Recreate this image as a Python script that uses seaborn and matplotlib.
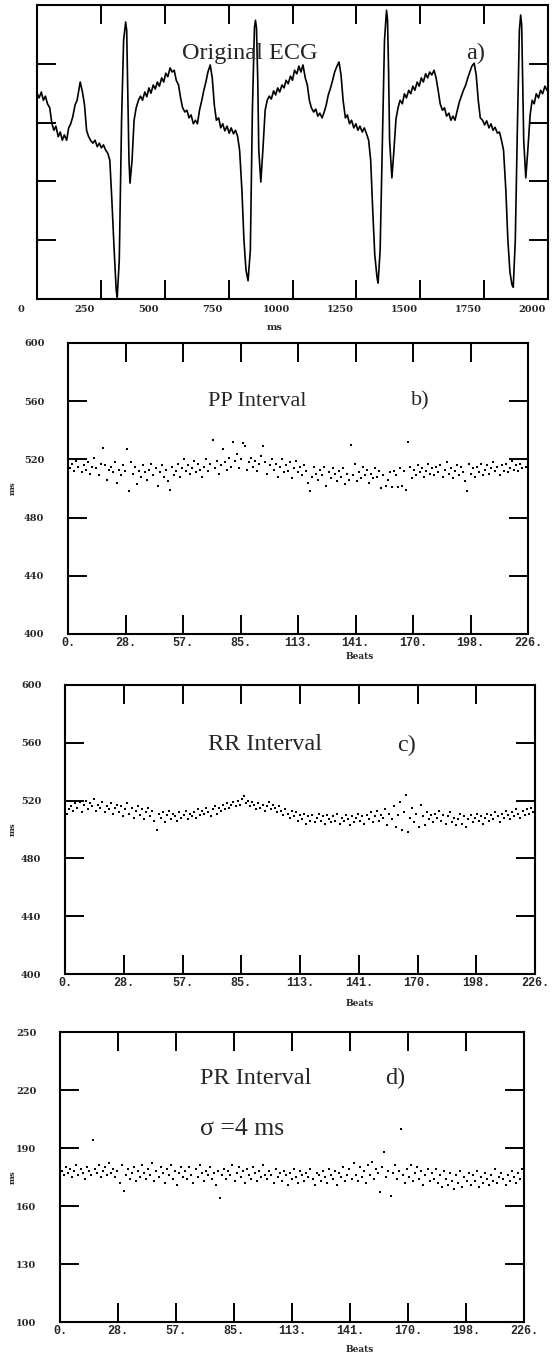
import numpy as np
import pandas as pd
import matplotlib.pyplot as plt
import matplotlib.transforms as mtransforms
import seaborn as sns

# ---- data ----
# a) original ECG trace (time in ms, amplitude in arbitrary units)
ecg_ms = [0, 8, 17, 25, 33, 41, 50, 58, 66, 74, 83, 91, 99, 107, 116, 124, 132, 140, 149, 157,
          165, 169, 178, 186, 194, 202, 211, 219, 227, 236, 244, 252, 260, 269, 277, 285, 293, 302, 310, 314,
          322, 331, 339, 347, 351, 355, 360, 364, 372, 380, 388, 397,
          405, 413, 422, 430, 438, 446, 455, 463, 471, 479, 488, 496, 504, 512, 521, 529, 537, 545, 554, 562,
          570, 579, 587, 595, 603, 612, 620, 628, 636, 645, 653, 661, 669, 678, 686, 694, 702, 711, 719, 727,
          735, 744, 752, 760, 769, 777, 785, 793, 802, 810, 818, 826, 835, 843, 851, 855, 859, 864, 868, 876,
          884, 893, 901,
          909, 917, 926, 934, 942, 950, 959, 967, 975, 983, 992, 1000, 1008, 1017, 1025, 1033, 1041, 1050, 1058, 1066,
          1074, 1083, 1091, 1099, 1107, 1116, 1124, 1132, 1140, 1149, 1157, 1165, 1174, 1182, 1190, 1198, 1207, 1215, 1223, 1231,
          1240, 1248, 1256, 1264, 1273, 1281, 1289, 1298, 1306, 1314, 1322, 1331, 1335, 1343, 1351, 1360, 1368, 1372, 1376, 1380,
          1389, 1397, 1405, 1413,
          1421, 1430, 1438, 1446, 1455, 1463, 1471, 1479, 1488, 1496, 1504, 1512, 1521, 1529, 1537, 1545, 1554, 1562, 1570, 1578,
          1587, 1595, 1603, 1612, 1620, 1628, 1636, 1645, 1653, 1661, 1669, 1678, 1686, 1694, 1702, 1711, 1719, 1727, 1735, 1744,
          1752, 1760, 1769, 1777, 1785, 1793, 1802, 1810, 1818, 1826, 1835, 1843, 1851, 1859, 1864, 1872, 1880, 1888, 1893, 1897,
          1901, 1905, 1913, 1921, 1930, 1938, 1946, 1954, 1963, 1971, 1979, 1988, 1996, 2000]
ecg_val = [3.50, 3.42, 3.52, 3.38, 3.45, 3.32, 3.25, 2.99, 2.87, 2.94, 2.76, 2.84, 2.70, 2.79, 2.70, 2.91, 2.98, 3.10, 3.30, 3.38,
           3.59, 3.69, 3.52, 3.30, 2.87, 2.76, 2.69, 2.65, 2.70, 2.59, 2.65, 2.57, 2.62, 2.53, 2.48, 2.36, 1.68, 0.83, 0.15, 0.03,
           0.66, 3.04, 4.40, 4.71, 4.57, 3.55, 2.36, 1.97, 2.36, 3.04, 3.25, 3.38,
           3.45, 3.38, 3.52, 3.44, 3.59, 3.50, 3.64, 3.57, 3.69, 3.62, 3.76, 3.69, 3.84, 3.78, 3.93, 3.86, 3.89, 3.72, 3.64, 3.42,
           3.25, 3.18, 3.21, 3.08, 3.13, 2.98, 3.04, 2.98, 3.21, 3.38, 3.55, 3.69, 3.86, 3.98, 3.76, 3.30, 3.04, 3.08, 2.91, 2.98,
           2.86, 2.94, 2.82, 2.91, 2.81, 2.87, 2.77, 2.53, 1.85, 1.00, 0.49, 0.31, 0.83, 3.21, 4.61, 4.74, 4.61, 3.72, 2.53, 1.99,
           2.53, 3.21, 3.38,
           3.45, 3.40, 3.54, 3.47, 3.59, 3.52, 3.64, 3.59, 3.72, 3.66, 3.79, 3.72, 3.89, 3.83, 3.96, 3.86, 3.98, 3.76, 3.64, 3.38,
           3.25, 3.18, 3.23, 3.11, 3.16, 3.08, 3.18, 3.30, 3.47, 3.59, 3.72, 3.86, 3.96, 4.03, 3.81, 3.38, 3.08, 3.13, 2.98, 3.04,
           2.91, 2.98, 2.87, 2.94, 2.84, 2.91, 2.82, 2.70, 2.36, 1.51, 0.75, 0.36, 0.27, 0.83, 2.53, 4.40, 4.91, 4.74, 3.89, 2.70,
           2.06, 2.53, 3.06, 3.25,
           3.38, 3.32, 3.49, 3.42, 3.55, 3.49, 3.62, 3.55, 3.69, 3.62, 3.76, 3.69, 3.83, 3.76, 3.86, 3.81, 3.89, 3.76, 3.55, 3.32,
           3.21, 3.25, 3.11, 3.16, 3.04, 3.11, 3.04, 3.21, 3.35, 3.45, 3.55, 3.64, 3.76, 3.86, 3.96, 4.01, 3.81, 3.38, 3.08, 3.04,
           2.96, 3.03, 2.91, 2.98, 2.87, 2.92, 2.82, 2.84, 2.70, 2.53, 1.85, 1.00, 0.46, 0.24, 0.20, 1.00, 2.87, 4.57, 4.83, 4.66,
           3.72, 2.70, 2.06, 2.53, 3.13, 3.38, 3.32, 3.49, 3.42, 3.55, 3.49, 3.62, 3.55, 3.59]
ecg_xticks = [0, 250, 500, 750, 1000, 1250, 1500, 1750, 2000]

# b) PP interval per beat (ms)
pp_ms = [514, 517, 512, 519, 515, 520, 511, 516, 513, 518, 510, 515, 521, 514, 509, 517, 528, 516, 506, 513,
         515, 511, 518, 504, 513, 509, 516, 512, 527, 498, 518, 510, 515, 503, 512, 508, 516, 511, 506, 513,
         517, 509, 514, 502, 511, 516, 508, 513, 505, 499, 515, 509, 512, 517, 508, 514, 520, 512, 516, 510,
         514, 519, 511, 517, 513, 508, 515, 520, 512, 517, 533, 514, 519, 510, 516, 527, 518, 513, 521, 515,
         532, 519, 524, 514, 520, 531, 529, 513, 518, 521, 515, 519, 512, 517, 522, 529, 518, 510, 516, 520,
         513, 517, 508, 515, 520, 511, 516, 512, 518, 507, 514, 519, 511, 515, 509, 516, 512, 504, 498, 508,
         515, 510, 506, 513, 509, 515, 502, 511, 507, 514, 510, 505, 512, 508, 514, 503, 510, 506, 530, 509,
         517, 505, 511, 507, 515, 509, 513, 504, 510, 507, 514, 508, 512, 500, 509, 502, 506, 511, 501, 512,
         509, 501, 514, 502, 512, 499, 532, 515, 507, 513, 509, 516, 511, 514, 508, 512, 517, 510, 514, 509,
         515, 511, 516, 508, 513, 518, 510, 514, 507, 512, 516, 509, 515, 511, 505, 498, 517, 510, 514, 508,
         515, 511, 517, 509, 513, 516, 510, 514, 518, 512, 515, 509, 516, 512, 517, 511, 514, 519, 513, 516,
         512, 517, 514, 520, 515, 518]

# c) RR interval per beat (ms)
rr_ms = [511, 514, 516, 513, 518, 515, 519, 512, 517, 520, 514, 518, 516, 521, 513, 517, 515, 519, 512, 516,
         514, 518, 511, 515, 517, 512, 516, 509, 514, 518, 511, 515, 508, 513, 516, 510, 514, 507, 512, 515,
         509, 513, 506, 500, 511, 508, 512, 505, 510, 513, 507, 511, 509, 506, 512, 508, 510, 513, 507, 511,
         509, 512, 508, 514, 510, 513, 511, 515, 512, 509, 514, 516, 511, 515, 513, 517, 514, 518, 515, 517,
         519, 516, 520, 517, 521, 523, 518, 520, 516, 519, 517, 514, 518, 515, 517, 513, 516, 519, 514, 517,
         515, 512, 516, 513, 510, 514, 511, 508, 513, 509, 512, 506, 510, 507, 511, 504, 509, 506, 510, 505,
         508, 511, 506, 509, 504, 510, 507, 505, 509, 506, 511, 504, 508, 506, 510, 507, 503, 509, 505, 508,
         511, 506, 509, 504, 510, 507, 512, 505, 509, 513, 506, 510, 508, 514, 503, 511, 507, 516, 502, 510,
         519, 500, 512, 524, 498, 508, 515, 505, 511, 502, 517, 509, 503, 512, 507, 510, 505, 511, 508, 513,
         506, 510, 504, 509, 512, 505, 508, 503, 507, 511, 504, 509, 502, 507, 510, 505, 508, 511, 506, 509,
         504, 508, 511, 506, 510, 507, 512, 509, 505, 511, 508, 513, 510, 507, 512, 509, 514, 511, 508, 513,
         510, 514, 511, 515, 512, 514]

# d) PR interval per beat (ms)
pr_ms = [178, 176, 180, 177, 179, 175, 178, 181, 176, 179, 177, 174, 180, 178, 176, 194, 179, 177, 181, 175,
         178, 180, 176, 182, 177, 179, 175, 178, 172, 181, 168, 176, 179, 174, 177, 180, 173, 178, 175, 181,
         177, 174, 179, 176, 182, 173, 178, 175, 180, 177, 172, 179, 176, 181, 174, 178, 171, 177, 180, 175,
         178, 174, 180, 176, 172, 179, 175, 181, 177, 173, 178, 176, 180, 174, 177, 171, 178, 164, 176, 179,
         174, 178, 176, 181, 173, 177, 180, 175, 178, 172, 179, 176, 174, 180, 177, 173, 178, 175, 181, 176,
         174, 178, 176, 172, 179, 175, 177, 173, 178, 176, 171, 177, 174, 179, 175, 172, 178, 176, 173, 177,
         175, 179, 174, 171, 177, 176, 173, 178, 175, 172, 179, 176, 174, 178, 171, 177, 175, 180, 173, 176,
         179, 174, 182, 176, 173, 180, 175, 178, 172, 181, 176, 183, 174, 179, 177, 167, 180, 188, 175, 178,
         165, 177, 181, 174, 178, 200, 176, 172, 179, 175, 181, 173, 177, 180, 174, 178, 171, 176, 179, 173,
         177, 174, 179, 172, 176, 170, 178, 174, 171, 177, 173, 169, 176, 172, 178, 170, 175, 173, 177, 171,
         176, 173, 178, 170, 175, 172, 177, 174, 171, 176, 173, 179, 172, 175, 177, 174, 171, 176, 173, 178,
         175, 172, 177, 174, 179, 176]

beat_ticks = [0, 28.25, 56.5, 84.75, 113, 141.25, 169.5, 197.75, 226]
beat_labels = ["0.", "28.", "57.", "85.", "113.", "141.", "170.", "198.", "226."]

panels = [
    # values, y ticks, title, letter, box (l, t, r, b in px), title x, letter x, title y, title size, "Beats" y
    (pp_ms, [400, 440, 480, 520, 560, 600], "PP Interval", "b)", (68, 343, 528, 634), 208, 411, 401, 16, 656),
    (rr_ms, [400, 440, 480, 520, 560, 600], "RR Interval", "c)", (65, 685, 535, 974), 208, 397, 745, 17.5, 1004),
    (pr_ms, [100, 130, 160, 190, 220, 250], "PR Interval", "d)", (60, 1032, 524, 1322), 200, 385, 1078, 17.5, 1350),
]

# ---- figure ----
sns.set_style("white")
plt.rcParams["font.family"] = ["Liberation Serif", "DejaVu Serif"]

W, H = 552, 1357
fig = plt.figure(figsize=(W / 100, H / 100), dpi=100)


def box(l, t, r, b):
    return [l / W, 1 - b / H, (r - l) / W, (b - t) / H]


def fx(x):
    return x / W


def fy(y):
    return 1 - y / H


def style_axes(ax):
    for s in ax.spines.values():
        s.set_color("black")
        s.set_linewidth(1.5)
    ax.tick_params(direction="in", length=14, width=1.4, color="black",
                   top=True, right=True, bottom=True, left=True,
                   labeltop=False, labelright=False)


tick_font = dict(family="DejaVu Serif", weight="bold", size=7)
beat_font = dict(family="Liberation Mono", weight="bold", size=8.5)

# a) ECG
ax = fig.add_axes(box(37, 5, 548, 299))
ecg = pd.DataFrame({"ms": ecg_ms, "val": ecg_val})
sns.lineplot(data=ecg, x="ms", y="val", ax=ax, color="black", linewidth=1.2,
             estimator=None, sort=False)
ax.set_xlim(0, 2000)
ax.set_ylim(0, 5)
ax.set_xticks(ecg_xticks)
ax.set_xticklabels([str(t) for t in ecg_xticks], fontdict=tick_font)
ax.set_yticks([1, 2, 3, 4])
ax.set_yticklabels([])
ax.set_xlabel("")
ax.set_ylabel("")
style_axes(ax)
ax.tick_params(axis="x", pad=4)
# the printed labels sit a little left of their ticks in the original
shift = mtransforms.ScaledTranslation(-16 / 100, 0, fig.dpi_scale_trans)
for lab in ax.get_xticklabels():
    lab.set_transform(lab.get_transform() + shift)
fig.text(fx(182), fy(53), "Original ECG", fontsize=17.5, ha="left", va="center")
fig.text(fx(466), fy(53), "a)", fontsize=17.5, ha="left", va="center")
fig.text(fx(275), fy(327), "ms", ha="center", va="center", **tick_font)

# b), c), d) interval scatter plots
for vals, yt, title, letter, bx, tx, lx, ty, tsize, by in panels:
    ax = fig.add_axes(box(*bx))
    df = pd.DataFrame({"beat": np.arange(1, len(vals) + 1), "ms": vals})
    sns.scatterplot(data=df, x="beat", y="ms", ax=ax, color="black", s=2.5,
                    marker="s", linewidth=0)
    ax.set_xlim(0, 226)
    ax.set_ylim(yt[0], yt[-1])
    ax.set_xticks(beat_ticks)
    ax.set_xticklabels(beat_labels, fontdict=beat_font)
    ax.set_yticks(yt)
    ax.set_yticklabels([str(v) for v in yt], fontdict=tick_font)
    ax.set_xlabel("")
    ax.set_ylabel("")
    style_axes(ax)
    ax.tick_params(axis="y", pad=17)
    ax.tick_params(axis="x", pad=2)
    fig.text(fx(tx), fy(ty), title, fontsize=tsize, ha="left", va="center")
    fig.text(fx(lx), fy(ty), letter, fontsize=tsize, ha="left", va="center")
    cy = (bx[1] + bx[3]) / 2
    fig.text(fx(13), fy(cy), "ms", rotation=90, ha="center", va="center",
             family="DejaVu Serif", weight="bold", size=6)
    fig.text(fx(360), fy(by), "Beats", ha="center", va="center",
             family="DejaVu Serif", weight="bold", size=6.5)

fig.text(fx(200), fy(1129), "σ =4 ms", fontsize=18.5, ha="left", va="center")

fig.savefig("out.png", dpi=100)
